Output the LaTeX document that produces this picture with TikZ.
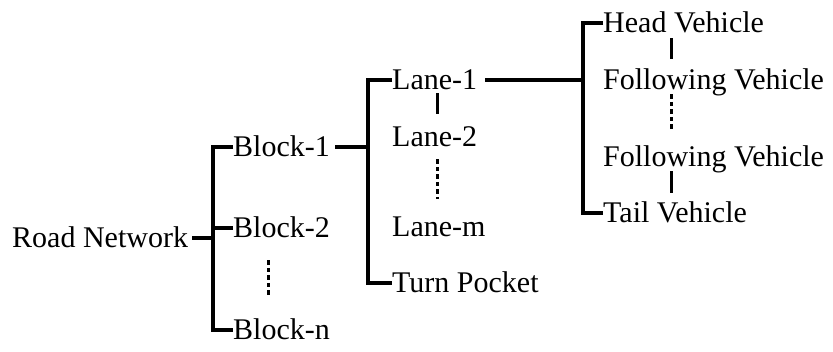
\documentclass[tikz,border=0pt]{standalone}
\usepackage{fontspec}
\setmainfont{Liberation Serif}

\begin{document}
\begin{tikzpicture}[
    x=1pt, y=-1pt,
    item/.style={inner sep=0pt, anchor=west, text height=21pt, text depth=1.2pt, font=\fontsize{30}{35}\selectfont},
    branch/.style={line width=4.5pt},
    link/.style={line width=3pt},
    gap/.style={line width=3pt, dash pattern=on 4.5pt off 3pt}
]
\useasboundingbox (0,0) rectangle (833,351);

\node[item] (road) at (12,238) {Road Network};
\node[item] (blk1) at (233,147) {Block-1};
\node[item] (blk2) at (233,228) {Block-2};
\node[item] (blkn) at (233,330) {Block-n};
\node[item] (lane1) at (392,80) {Lane-1};
\node[item] (lane2) at (392,137) {Lane-2};
\node[item] (lanem) at (392,227) {Lane-m};
\node[item] (turn) at (392,283) {Turn Pocket};
\node[item] (head) at (603,23) {Head Vehicle};
\node[item] (fol1) at (603,80) {Following Vehicle};
\node[item] (fol2) at (603,157) {Following Vehicle};
\node[item] (tail) at (603,213) {Tail Vehicle};

\coordinate (rootj) at (213,238);
\coordinate (blkj) at (368,147);
\coordinate (lanej) at (583,80);
\coordinate (blkx) at (268,0);
\coordinate (lanex) at (437,0);
\coordinate (vehx) at (671,0);

\draw[branch] ([xshift=4pt]road.east) -- (rootj);
\draw[branch] (blk1.west) -| (rootj) |- (blkn.west);
\draw[branch] (rootj |- blk2.west) -- (blk2.west);
\draw[branch] ([xshift=5pt]blk1.east) -- (blkj);
\draw[branch] (lane1.west) -| (blkj) |- (turn.west);
\draw[branch] ([xshift=8pt]lane1.east) -- (lanej);
\draw[branch] (head.west) -| (lanej) |- (tail.west);

\draw[gap, shorten <=21pt, shorten >=21pt] (blk2.south -| blkx) -- (blkn.north -| blkx);
\draw[link, shorten <=2pt, shorten >=12pt] (lane1.south -| lanex) -- (lane2.north -| lanex);
\draw[gap, shorten <=11pt, shorten >=17pt] (lane2.south -| lanex) -- (lanem.north -| lanex);
\draw[link, shorten <=4pt, shorten >=10pt] (head.south -| vehx) -- (fol1.north -| vehx);
\draw[gap, shorten <=3pt, shorten >=15pt] (fol1.south -| vehx) -- (fol2.north -| vehx);
\draw[link, shorten <=3pt, shorten >=9pt] (fol2.south -| vehx) -- (tail.north -| vehx);
\end{tikzpicture}
\end{document}
